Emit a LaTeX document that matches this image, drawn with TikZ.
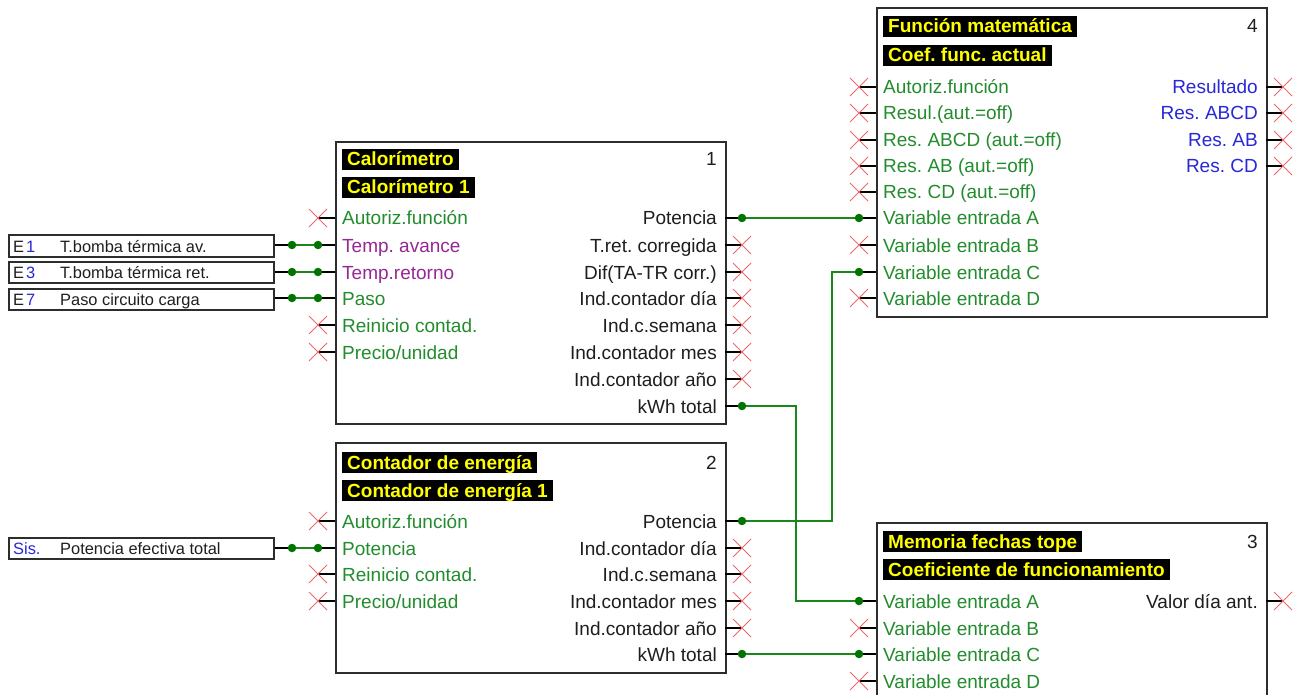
\documentclass[tikz,border=0pt]{standalone}
\usepackage{fontspec}
\setmainfont{Liberation Sans}
\frenchspacing
\definecolor{tgreen}{RGB}{35,140,45}
\definecolor{tpurple}{RGB}{150,40,150}
\definecolor{tblue}{RGB}{40,40,215}
\definecolor{tdark}{RGB}{30,30,30}
\definecolor{wgreen}{RGB}{25,135,25}
\definecolor{dgreen}{RGB}{0,115,0}
\definecolor{xred}{RGB}{235,105,105}
\definecolor{boxgray}{RGB}{45,45,45}
\definecolor{tyellow}{RGB}{255,255,0}
\newcommand\LRow[5]{%
  \node[lbl, text=#4, anchor=base west] (#1t) at (#2+7,#3+7) {#5};
  \coordinate (#1) at (#2-17,#3);
  \draw[stub] (#2,#3) -- (#1);}
\newcommand\RRow[5]{%
  \node[lbl, text=#4, anchor=base east] (#1t) at (#2-8,#3+7) {#5};
  \coordinate (#1) at (#2+17,#3);
  \draw[stub] (#2,#3) -- (#1);}
\newcommand\Xat[1]{\draw[xm] ([shift={(-9,-9)}]#1) -- ([shift={(9,9)}]#1) ([shift={(-9,9)}]#1) -- ([shift={(9,-9)}]#1);}
\begin{document}
\begin{tikzpicture}[x=1pt,y=-1pt,
  fbox/.style={draw=boxgray, line width=2pt, fill=white, inner sep=0pt, anchor=north west},
  lbl/.style={font=\fontsize{19}{19}\selectfont, inner sep=0pt},
  ttl/.style={fill=black, text=tyellow, font=\fontsize{19}{19}\selectfont\bfseries, inner xsep=5pt, inner ysep=1pt, text height=16pt, text depth=3pt, anchor=base west},
  num/.style={font=\fontsize{19}{19}\selectfont, text=tdark, inner sep=0pt, anchor=base east},
  itxt/.style={font=\fontsize{16.4}{16.4}\selectfont, inner sep=0pt, anchor=base west},
  inbox/.style={draw=boxgray, line width=2pt, fill=white, minimum width=265pt, minimum height=21pt, inner sep=0pt, anchor=west},
  stub/.style={draw=black, line width=2pt},
  xm/.style={draw=xred, line width=1pt},
  wire/.style={draw=wgreen, line width=2pt},
  dot/.style={circle, fill=dgreen, inner sep=0pt, minimum size=8.5pt}]
\clip (0,0) rectangle (1301,695);
\fill[white] (0,0) rectangle (1301,695);

% ---------- Box 1: Calorimetro ----------
\node[fbox, minimum width=390pt, minimum height=282pt] (b1) at (335,141) {};
\node[ttl] (b1t1) at (342,166) {Calorímetro};
\node[ttl] (b1t2) at (342,194) {Calorímetro 1};
\node[num] (b1n) at (717,166) {1};
\LRow{b1l0}{335}{218}{tgreen}{Autoriz.función}\Xat{b1l0}
\LRow{b1l1}{335}{245}{tpurple}{Temp. avance}
\LRow{b1l2}{335}{272}{tpurple}{Temp.retorno}
\LRow{b1l3}{335}{298}{tgreen}{Paso}
\LRow{b1l4}{335}{325}{tgreen}{Reinicio contad.}\Xat{b1l4}
\LRow{b1l5}{335}{352}{tgreen}{Precio/unidad}\Xat{b1l5}
\RRow{b1r0}{725}{218}{tdark}{Potencia}
\RRow{b1r1}{725}{245}{tdark}{T.ret. corregida}\Xat{b1r1}
\RRow{b1r2}{725}{272}{tdark}{Dif(TA-TR corr.)}\Xat{b1r2}
\RRow{b1r3}{725}{298}{tdark}{Ind.contador día}\Xat{b1r3}
\RRow{b1r4}{725}{325}{tdark}{Ind.c.semana}\Xat{b1r4}
\RRow{b1r5}{725}{352}{tdark}{Ind.contador mes}\Xat{b1r5}
\RRow{b1r6}{725}{379}{tdark}{Ind.contador año}\Xat{b1r6}
\RRow{b1r7}{725}{406}{tdark}{kWh total}

% ---------- Box 2: Contador de energia ----------
\node[fbox, minimum width=390pt, minimum height=230pt] (b2) at (335,442) {};
\node[ttl] (b2t1) at (342,469) {Contador de energía};
\node[ttl] (b2t2) at (342,497) {Contador de energía 1};
\node[num] (b2n) at (717,469) {2};
\LRow{b2l0}{335}{521}{tgreen}{Autoriz.función}\Xat{b2l0}
\LRow{b2l1}{335}{548}{tgreen}{Potencia}
\LRow{b2l2}{335}{574}{tgreen}{Reinicio contad.}\Xat{b2l2}
\LRow{b2l3}{335}{601}{tgreen}{Precio/unidad}\Xat{b2l3}
\RRow{b2r0}{725}{521}{tdark}{Potencia}
\RRow{b2r1}{725}{548}{tdark}{Ind.contador día}\Xat{b2r1}
\RRow{b2r2}{725}{574}{tdark}{Ind.c.semana}\Xat{b2r2}
\RRow{b2r3}{725}{601}{tdark}{Ind.contador mes}\Xat{b2r3}
\RRow{b2r4}{725}{628}{tdark}{Ind.contador año}\Xat{b2r4}
\RRow{b2r5}{725}{654}{tdark}{kWh total}

% ---------- Box 4: Funcion matematica ----------
\node[fbox, minimum width=390pt, minimum height=309pt] (b4) at (876,7) {};
\node[ttl] (b4t1) at (883,33) {Función matemática};
\node[ttl] (b4t2) at (883,62) {Coef. func. actual};
\node[num] (b4n) at (1258,33) {4};
\LRow{b4l0}{876}{87}{tgreen}{Autoriz.función}\Xat{b4l0}
\LRow{b4l1}{876}{113}{tgreen}{Resul.(aut.=off)}\Xat{b4l1}
\LRow{b4l2}{876}{140}{tgreen}{Res. ABCD (aut.=off)}\Xat{b4l2}
\LRow{b4l3}{876}{166}{tgreen}{Res. AB (aut.=off)}\Xat{b4l3}
\LRow{b4l4}{876}{192}{tgreen}{Res. CD (aut.=off)}\Xat{b4l4}
\LRow{b4l5}{876}{218}{tgreen}{Variable entrada A}
\LRow{b4l6}{876}{245}{tgreen}{Variable entrada B}\Xat{b4l6}
\LRow{b4l7}{876}{272}{tgreen}{Variable entrada C}
\LRow{b4l8}{876}{298}{tgreen}{Variable entrada D}\Xat{b4l8}
\RRow{b4r0}{1266}{87}{tblue}{Resultado}\Xat{b4r0}
\RRow{b4r1}{1266}{113}{tblue}{Res. ABCD}\Xat{b4r1}
\RRow{b4r2}{1266}{140}{tblue}{Res. AB}\Xat{b4r2}
\RRow{b4r3}{1266}{166}{tblue}{Res. CD}\Xat{b4r3}

% ---------- Box 3: Memoria fechas tope ----------
\node[fbox, minimum width=390pt, minimum height=200pt] (b3) at (876,522) {};
\node[ttl] (b3t1) at (883,548) {Memoria fechas tope};
\node[ttl] (b3t2) at (883,576) {Coeficiente de funcionamiento};
\node[num] (b3n) at (1258,548) {3};
\LRow{b3l0}{876}{601}{tgreen}{Variable entrada A}
\LRow{b3l1}{876}{628}{tgreen}{Variable entrada B}\Xat{b3l1}
\LRow{b3l2}{876}{654}{tgreen}{Variable entrada C}
\LRow{b3l3}{876}{681}{tgreen}{Variable entrada D}\Xat{b3l3}
\RRow{b3r0}{1266}{601}{tdark}{Valor día ant.}\Xat{b3r0}

% ---------- Inputs ----------
\node[inbox] (e1) at (8,246) {};
\node[itxt, text=tdark] (e1a) at (13,252) {E};
\node[itxt, text=tblue] (e1b) at (26,252) {1};
\node[itxt, text=tdark] (e1c) at (60,252) {T.bomba térmica av.};
\node[inbox] (e3) at (8,272.5) {};
\node[itxt, text=tdark] (e3a) at (13,278.5) {E};
\node[itxt, text=tblue] (e3b) at (26,278.5) {3};
\node[itxt, text=tdark] (e3c) at (60,278.5) {T.bomba térmica ret.};
\node[inbox] (e7) at (8,299) {};
\node[itxt, text=tdark] (e7a) at (13,305) {E};
\node[itxt, text=tblue] (e7b) at (26,305) {7};
\node[itxt, text=tdark] (e7c) at (60,305) {Paso circuito carga};
\node[inbox] (es) at (8,548) {};
\node[itxt, text=tblue] (esa) at (13,554) {Sis.};
\node[itxt, text=tdark] (esc) at (60,554) {Potencia efectiva total};

\coordinate (e1p) at (292,245);
\coordinate (e3p) at (292,272);
\coordinate (e7p) at (292,298);
\coordinate (esp) at (292,548);
\foreach \a/\b in {e1/b1l1, e3/b1l2, e7/b1l3, es/b2l1}{
  \draw[stub] (\a.east |- \a p) -- (\a p);
  \draw[wire] (\a p) -- (\b);
  \node[dot] at (\a p) {};
  \node[dot] at (\b) {};
}

% ---------- Connections ----------
\draw[wire] (b1r0) -- (b4l5);
\draw[wire] (b2r0) -- ++(90,0) |- (b4l7);
\draw[wire] (b1r7) -- ++(54,0) |- (b3l0);
\draw[wire] (b2r5) -- (b3l2);
\foreach \p in {b1r0, b4l5, b2r0, b4l7, b1r7, b3l0, b2r5, b3l2}{
  \node[dot] at (\p) {};
}
\end{tikzpicture}
\end{document}
